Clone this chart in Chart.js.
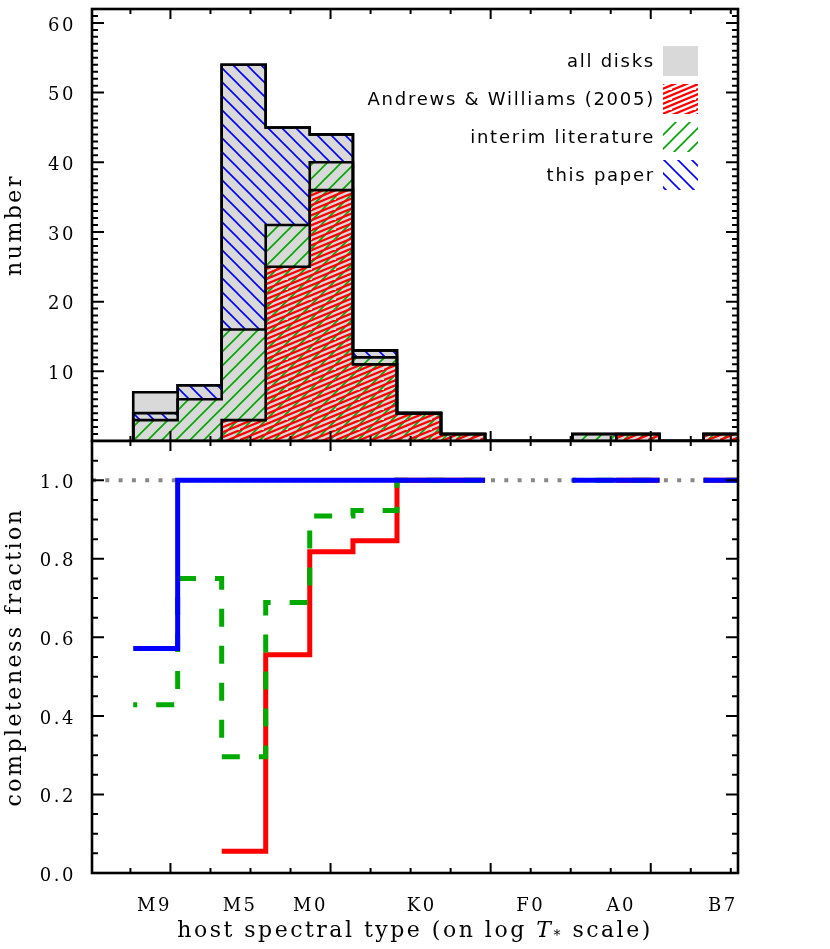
<!DOCTYPE html>
<html>
<head>
<meta charset="utf-8">
<script src="https://cdn.jsdelivr.net/npm/chart.js@4.4.1/dist/chart.umd.min.js"></script>
<style>
  body { margin: 0; background: #fff; }
  #wrap { position: relative; width: 830px; height: 949px; }
  #histChart { position: absolute; left: 0; top: 0; }
  #fracChart { position: absolute; left: 0; top: 431px; }
</style>
</head>
<body>
<div id="wrap">
  <canvas id="histChart" width="830" height="442"></canvas>
  <canvas id="fracChart" width="830" height="518"></canvas>
</div>
<script>
// ---- データ ----
// ビンの境界 (log T*)
const binEdges = [3.3535, 3.409, 3.464, 3.519, 3.574, 3.628, 3.683, 3.738, 3.793, 3.848, 3.902, 3.957, 4.011, 4.066, 4.121];
const allDisks        = [7, 8, 54, 45, 44, 13, 4, 1, 0, 0, 1, 1, 0, 1];
const andrewsWilliams = [0, 0,  3, 25, 36, 11, 4, 1, 0, 0, 0, 1, 0, 1];
const interimLit      = [3, 6, 13,  6,  4,  1, 0, 0, 0, 0, 1, 0, 0, 0];
const thisPaper       = [1, 2, 38, 14,  4,  1, 0, 0, 0, 0, 0, 0, 0, 0];
const seriesLabels = ['all disks', 'Andrews & Williams (2005)', 'interim literature', 'this paper'];

// 軸
const xAxisRange = [3.302, 4.109];
const spectralTypes = ['M9', 'M5', 'M0', 'K0', 'F0', 'A0', 'B7'];
const spectralLogT  = [3.380, 3.487, 3.575, 3.714, 3.850, 3.963, 4.090];
const xMajorTicks = [3.4, 3.6, 3.8, 4.0];
const xTitleParts = ['host spectral type (on log ', 'T', '*', ' scale)'];

Chart.defaults.font.family = '"DejaVu Serif", serif';
Chart.defaults.font.size = 18;
Chart.defaults.color = '#000';

// 累積値
const cumAW = andrewsWilliams.slice();
const cumInterim = cumAW.map((v, i) => v + interimLit[i]);
const cumPaper = cumInterim.map((v, i) => v + thisPaper[i]);

// ハッチパターン
function makeHatch(color, w, h, lw, lineFn) {
    const c = document.createElement('canvas');
    c.width = w; c.height = h;
    const g = c.getContext('2d');
    g.strokeStyle = color;
    g.lineWidth = lw;
    g.beginPath();
    lineFn(g, w, h);
    g.stroke();
    return g.createPattern(c, 'repeat');
}
const redPat = makeHatch('#ff0000', 24, 10, 2.2, (g, w, h) => {
    [0, 5, 10, 15].forEach(c0 => { g.moveTo(-2, c0 + 2 * h / w); g.lineTo(w + 2, c0 - (w + 2) * h / w); });
});
const greenPat = makeHatch('#00a800', 14, 14, 1.6, (g, w, h) => {
    [0, 14, 28].forEach(c0 => { g.moveTo(-2, c0 + 2); g.lineTo(w + 2, c0 - w - 2); });
});
const bluePat = makeHatch('#0000ff', 14, 14, 1.6, (g, w, h) => {
    [-14, 0, 14].forEach(c0 => { g.moveTo(-2, c0 - 2); g.lineTo(w + 2, c0 + w + 2); });
});
const legendFills = ['#d9d9d9', redPat, greenPat, bluePat];

// ヒストグラムの階段
function histSteps(vals) {
    const pts = [{ x: binEdges[0], y: 0 }];
    vals.forEach((v, i) => pts.push({ x: binEdges[i], y: v }));
    pts.push({ x: binEdges[vals.length], y: vals[vals.length - 1] });
    pts.push({ x: binEdges[vals.length], y: 0 });
    return pts;
}

// 完全性の階段 (データのないビンは切る)
function fracSteps(num) {
    const ok = i => i < num.length && num[i] > 0 && allDisks[i] > 0;
    const pts = [];
    num.forEach((n, i) => {
        if (!ok(i)) {
            if (pts.length && pts[pts.length - 1].y !== null) pts.push({ x: binEdges[i], y: null });
            return;
        }
        const f = n / allDisks[i];
        pts.push({ x: binEdges[i], y: f });
        if (!ok(i + 1)) pts.push({ x: binEdges[i + 1], y: f });
    });
    return pts;
}

// 内向きの目盛りと枠
function frameTicks(yMajor, yMinor) {
    const xMinor = [];
    for (let v = 3.35; v < xAxisRange[1]; v += 0.05) xMinor.push(+v.toFixed(2));
    return {
        id: 'frameTicks',
        afterDraw(chart) {
            const ctx = chart.ctx, a = chart.chartArea;
            const xs = chart.scales.x, ys = chart.scales.y;
            ctx.save();
            ctx.strokeStyle = '#000';
            ctx.lineWidth = 2;
            ctx.beginPath();
            const tx = (v, len) => {
                const p = xs.getPixelForValue(v);
                ctx.moveTo(p, a.bottom); ctx.lineTo(p, a.bottom - len);
                ctx.moveTo(p, a.top); ctx.lineTo(p, a.top + len);
            };
            const ty = (v, len) => {
                const p = ys.getPixelForValue(v);
                ctx.moveTo(a.left, p); ctx.lineTo(a.left + len, p);
                ctx.moveTo(a.right, p); ctx.lineTo(a.right - len, p);
            };
            xMinor.forEach(v => tx(v, 5));
            xMajorTicks.forEach(v => tx(v, 10));
            yMinor.forEach(v => ty(v, 6));
            yMajor.forEach(v => ty(v, 12));
            ctx.stroke();
            ctx.lineWidth = 2.6;
            ctx.strokeRect(a.left, a.top, a.right - a.left, a.bottom - a.top);
            ctx.restore();
        }
    };
}

const spacing = {
    id: 'spacing',
    beforeDraw(chart) { chart.ctx.letterSpacing = '2.5px'; }
};

// 凡例
const legendBoxes = {
    id: 'legendBoxes',
    afterDraw(chart) {
        const ctx = chart.ctx;
        ctx.save();
        ctx.font = '18px "DejaVu Sans"';
        ctx.letterSpacing = '1.75px';
        ctx.textAlign = 'right';
        ctx.textBaseline = 'alphabetic';
        seriesLabels.forEach((lab, i) => {
            const y = 67 + i * 38;
            ctx.fillStyle = '#000';
            ctx.fillText(lab, 655, y);
            ctx.fillStyle = legendFills[i];
            ctx.fillRect(663, y - 21, 35, 30);
        });
        ctx.restore();
    }
};

// x軸タイトル (T は斜体、* は下付き)
const xTitle = {
    id: 'xTitle',
    afterDraw(chart) {
        const ctx = chart.ctx, a = chart.chartArea;
        const fonts = ['22px "DejaVu Serif"', 'italic 22px "DejaVu Serif"', '14px "DejaVu Serif"', '22px "DejaVu Serif"'];
        const dy = [0, 0, 3, 0];
        ctx.save();
        ctx.letterSpacing = '2.5px';
        ctx.fillStyle = '#000';
        ctx.textAlign = 'left';
        ctx.textBaseline = 'alphabetic';
        let total = 0;
        const widths = xTitleParts.map((t, i) => { ctx.font = fonts[i]; const w = ctx.measureText(t).width; total += w; return w; });
        let x = (a.left + a.right) / 2 - total / 2;
        xTitleParts.forEach((t, i) => {
            ctx.font = fonts[i];
            ctx.fillText(t, x, 506 + dy[i]);
            x += widths[i];
        });
        ctx.restore();
    }
};

// 軸のラベル分の余白をなくす
const fixY = s => { s.width = 92; s.paddingTop = 0; s.paddingBottom = 0; };
const fixX = s => { s.height = 76; s.paddingLeft = 0; s.paddingRight = 0; };

// 上段: ヒストグラム
const histYMajor = [10, 20, 30, 40, 50, 60];
const histYMinor = [];
for (let v = 1; v < 62; v++) histYMinor.push(v);

new Chart(document.getElementById('histChart'), {
    type: 'line',
    data: {
        datasets: [
            { label: seriesLabels[0], data: histSteps(allDisks), fill: 'origin', backgroundColor: '#d9d9d9', order: 4 },
            { label: seriesLabels[2], data: histSteps(cumInterim), fill: 'origin', backgroundColor: greenPat, order: 3 },
            { label: seriesLabels[1], data: histSteps(cumAW), fill: 'origin', backgroundColor: redPat, order: 2 },
            { label: seriesLabels[3], data: histSteps(cumPaper), fill: 1, backgroundColor: bluePat, order: 1 }
        ].map(d => Object.assign(d, { stepped: true, borderColor: '#000', borderWidth: 2.6, pointRadius: 0, clip: 0 }))
    },
    options: {
        responsive: false,
        animation: false,
        layout: { padding: { top: 9, right: 92, bottom: 1, left: 0 } },
        plugins: {
            legend: { display: false },
            tooltip: { enabled: false },
            filler: { drawTime: 'beforeDatasetsDraw' }
        },
        scales: {
            x: { type: 'linear', display: false, min: xAxisRange[0], max: xAxisRange[1] },
            y: {
                min: 0, max: 62,
                afterFit: fixY,
                grid: { display: false },
                border: { display: false },
                ticks: { stepSize: 10, includeBounds: false, padding: 8, labelOffset: 3,
                         callback: v => v === 0 ? '' : v },
                title: { display: true, text: 'number', font: { size: 22 }, padding: { top: 2, bottom: 0 } }
            }
        }
    },
    plugins: [spacing, frameTicks(histYMajor, histYMinor), legendBoxes]
});

// 下段: 完全性
const fracYMajor = [0, 0.2, 0.4, 0.6, 0.8, 1.0];
const fracYMinor = [];
for (let v = 0.05; v < 1.1; v += 0.05) fracYMinor.push(+v.toFixed(2));

new Chart(document.getElementById('fracChart'), {
    type: 'line',
    data: {
        datasets: [
            { label: seriesLabels[3], data: fracSteps(cumPaper), borderColor: '#0000ff', borderWidth: 5 },
            { label: seriesLabels[2], data: fracSteps(cumInterim), borderColor: '#00aa00', borderWidth: 5, borderDash: [18, 19], borderDashOffset: 14 },
            { label: seriesLabels[1], data: fracSteps(cumAW), borderColor: '#ff0000', borderWidth: 5 },
            { label: 'complete', data: [{ x: xAxisRange[0], y: 1 }, { x: xAxisRange[1], y: 1 }], borderColor: '#888888', borderWidth: 4, borderDash: [4, 9.3], stepped: false }
        ].map(d => Object.assign({ stepped: true, pointRadius: 0, fill: false, spanGaps: false, borderCapStyle: 'butt', clip: 0 }, d))
    },
    options: {
        responsive: false,
        animation: false,
        layout: { padding: { top: 10, right: 92, bottom: 0, left: 0 } },
        plugins: { legend: { display: false }, tooltip: { enabled: false } },
        scales: {
            x: {
                type: 'linear', min: xAxisRange[0], max: xAxisRange[1],
                afterFit: fixX,
                afterBuildTicks: s => { s.ticks = spectralLogT.map(v => ({ value: v })); },
                grid: { display: false },
                border: { display: false },
                ticks: { autoSkip: false, maxRotation: 0, padding: 15, callback: (v, i) => spectralTypes[i] }
            },
            y: {
                min: 0, max: 1.1,
                afterFit: fixY,
                grid: { display: false },
                border: { display: false },
                ticks: { stepSize: 0.2, includeBounds: false, padding: 8, labelOffset: 3,
                         callback: v => v.toFixed(1) },
                title: { display: true, text: 'completeness fraction', font: { size: 22 }, padding: { top: 2, bottom: 0 } }
            }
        }
    },
    plugins: [spacing, frameTicks(fracYMajor, fracYMinor), xTitle]
});
</script>
</body>
</html>
